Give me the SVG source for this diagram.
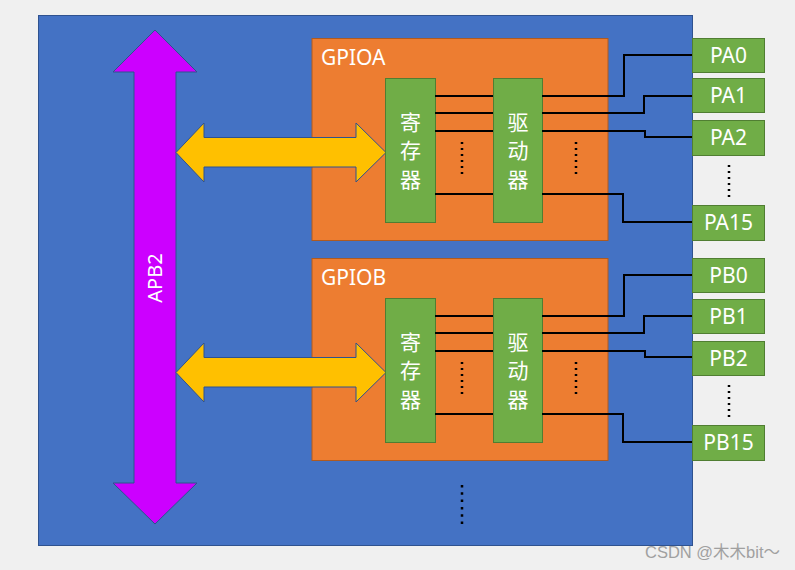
<svg xmlns="http://www.w3.org/2000/svg" width="795" height="570" viewBox="0 0 795 570">
<style>
.bg{fill:#f0f0f0}
.blue{fill:#4472c4;stroke:#2f528f;stroke-width:1}
.orange{fill:#ed7d31;stroke:#ae5a21;stroke-width:1}
.green{fill:#70ad47;stroke:#507e32;stroke-width:1}
.wire{fill:none;stroke:#000;stroke-width:2}
.dots{fill:none;stroke:#000;stroke-width:2.5;stroke-dasharray:2 4}
.t{font-family:"Noto Sans","Noto Sans CJK SC",sans-serif;fill:#fff}
.lbl{font-size:21px}
.cjk{font-family:"Noto Sans CJK SC",sans-serif;font-size:21px;text-anchor:middle;writing-mode:tb;letter-spacing:7.5px}
.pin{font-size:21px;text-anchor:middle}
</style>
<rect class="bg" x="0" y="0" width="795" height="570"/>
<g id="board"><rect class="blue" x="38.5" y="15.5" width="654" height="530"/></g>

<g id="apb2">
<polygon points="155,30 197,72 176,72 176,483 197,483 155,524 113,483 134,483 134,72 113,72" fill="#cc00ff" stroke="#2f528f" stroke-width="1"/>
<text class="t" font-size="20" text-anchor="middle" transform="translate(162,278) rotate(-90)">APB2</text>
</g>

<g id="gpioa">
<rect class="orange" x="312" y="38.5" width="296" height="202"/>
<text class="t lbl" x="321" y="65">GPIOA</text>
</g>
<g id="bus-a">
<polygon points="176,152.5 204,123 204,137.5 356,137.5 356,123 386,152.5 356,182 356,167 204,167 204,182" fill="#ffc000" stroke="#2f528f" stroke-width="1"/>
</g>
<g id="reg-a">
<rect class="green" x="385.5" y="78.5" width="50" height="144"/>
<text class="t cjk" x="410.5" y="154">寄存器</text>
</g>
<g id="drv-a">
<rect class="green" x="493.5" y="78.5" width="49" height="144"/>
<text class="t cjk" x="518" y="154">驱动器</text>
</g>

<g id="gpiob">
<rect class="orange" x="312" y="258.5" width="296" height="202"/>
<text class="t lbl" x="321" y="285">GPIOB</text>
</g>
<g id="bus-b">
<polygon points="176,372.5 204,343 204,357.5 356,357.5 356,343 386,372.5 356,402 356,387 204,387 204,402" fill="#ffc000" stroke="#2f528f" stroke-width="1"/>
</g>
<g id="reg-b">
<rect class="green" x="385.5" y="298.5" width="50" height="144"/>
<text class="t cjk" x="410.5" y="374">寄存器</text>
</g>
<g id="drv-b">
<rect class="green" x="493.5" y="298.5" width="49" height="144"/>
<text class="t cjk" x="518" y="374">驱动器</text>
</g>

<g id="pa0"><rect class="green" x="692.5" y="38.5" width="72" height="34"/><text class="t pin" x="728.5" y="63">PA0</text></g>
<g id="pa1"><rect class="green" x="692.5" y="78.5" width="72" height="34"/><text class="t pin" x="728.5" y="103">PA1</text></g>
<g id="pa2"><rect class="green" x="692.5" y="120.5" width="72" height="35"/><text class="t pin" x="728.5" y="145">PA2</text></g>
<g id="pa15"><rect class="green" x="692.5" y="205.5" width="72" height="35"/><text class="t pin" x="728.5" y="230">PA15</text></g>
<g id="pb0"><rect class="green" x="692.5" y="258.5" width="72" height="34"/><text class="t pin" x="728.5" y="283">PB0</text></g>
<g id="pb1"><rect class="green" x="692.5" y="299.5" width="72" height="34"/><text class="t pin" x="728.5" y="324">PB1</text></g>
<g id="pb2"><rect class="green" x="692.5" y="341.5" width="72" height="34"/><text class="t pin" x="728.5" y="366">PB2</text></g>
<g id="pb15"><rect class="green" x="692.5" y="425.5" width="72" height="35"/><text class="t pin" x="728.5" y="450">PB15</text></g>

<g id="connectors">
<path class="wire" d="M435,96 H493 M435,113 H493 M435,131 H493 M435,194 H493"/>
<path class="wire" d="M542,96 H624 V55 H692 M542,113 H644 V96 H692 M542,131 H645 V137 H692 M542,194 H623 V222 H692"/>
<path class="wire" d="M435,316 H493 M435,333 H493 M435,351 H493 M435,414 H493"/>
<path class="wire" d="M542,316 H624 V275 H692 M542,333 H644 V316 H692 M542,351 H645 V357 H692 M542,414 H623 V442 H692"/>
</g>

<g id="ellipses">
<line class="dots" x1="462" y1="142" x2="462" y2="176"/>
<line class="dots" x1="576" y1="142" x2="576" y2="176"/>
<line class="dots" x1="462" y1="362" x2="462" y2="396"/>
<line class="dots" x1="576" y1="362" x2="576" y2="396"/>
<line class="dots" x1="729" y1="165" x2="729" y2="199"/>
<line class="dots" x1="729" y1="385" x2="729" y2="419"/>
<line class="dots" x1="462" y1="485" x2="462" y2="524" style="stroke-dasharray:2.5 4.8"/>
</g>

<text x="780" y="558" text-anchor="end" font-family="Liberation Sans,'Noto Sans CJK SC',sans-serif" font-size="16.5" fill="#a0a0a0">CSDN @木木bit～</text>
</svg>
